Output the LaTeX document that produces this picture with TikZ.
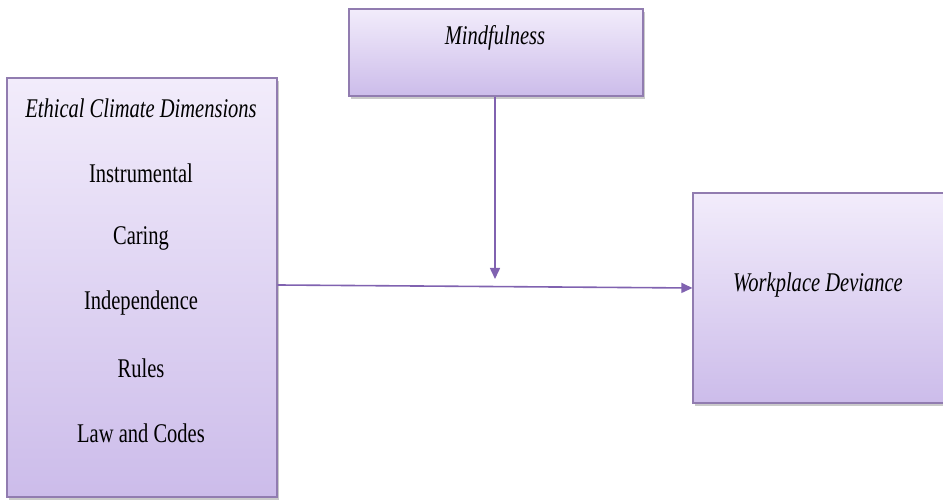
\documentclass[tikz,border=0pt]{standalone}
\usepackage{fontspec}
\setmainfont{Liberation Serif}[FakeStretch=0.76]
\usetikzlibrary{arrows.meta,shadows}

\definecolor{boxtop}{RGB}{242,236,251}
\definecolor{boxbot}{RGB}{204,188,234}
\definecolor{boxline}{RGB}{145,124,176}
\definecolor{arrowc}{RGB}{128,98,176}

\tikzset{
  varbox/.style={draw=boxline, line width=1.2pt, top color=boxtop, bottom color=boxbot,
    drop shadow={shadow xshift=2pt, shadow yshift=-3pt, opacity=0.35, fill=black!60},
    minimum width=#1, inner sep=0pt},
  boxlabel/.style={font=\fontsize{27}{30}\selectfont\itshape, text=black, inner sep=0pt},
  itemlabel/.style={font=\fontsize{27}{30}\selectfont, text=black, inner sep=0pt},
  link/.style={draw=arrowc, line width=1.6pt, -{Triangle[length=11pt,width=10pt]}}
}

\begin{document}
\begin{tikzpicture}[x=1pt,y=1pt]
  \useasboundingbox (0,0) rectangle (943,502);

  % moderator
  \node[varbox=294pt, minimum height=87pt] (mind) at (496,449.5) {};
  \node[boxlabel] (mindtxt) at (495,464) {Mindfulness};

  % independent variable and its dimensions
  \node[varbox=270pt, minimum height=419pt] (eth) at (142,214.5) {};
  \node[boxlabel] (ethtxt) at (141,394) {Ethical Climate Dimensions};
  \node[itemlabel] (d1) at (141,329) {Instrumental};
  \node[itemlabel] (d2) at (141,264) {Caring};
  \node[itemlabel] (d3) at (141,199) {Independence};
  \node[itemlabel] (d4) at (141,134) {Rules};
  \node[itemlabel] (d5) at (141,69) {Law and Codes};

  % dependent variable
  \node[varbox=262pt, minimum height=210pt] (dev) at (824,204) {};
  \node[boxlabel] (devtxt) at (818,217) {Workplace Deviance};

  % connectors
  \coordinate (meet) at (495,223);
  \draw[link] ([yshift=2.5pt]eth.east) -- ([yshift=10pt]dev.west);
  \draw[link] (mind.south -| meet) -- (meet);
\end{tikzpicture}
\end{document}
